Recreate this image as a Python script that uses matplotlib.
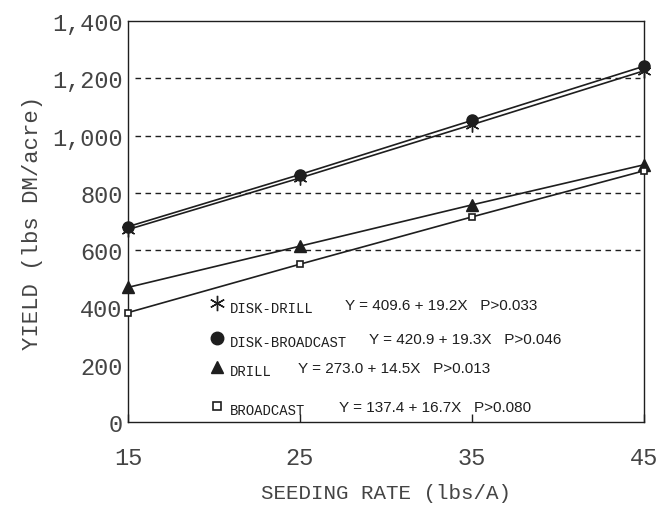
import numpy as np
import matplotlib
matplotlib.use('Agg')
import matplotlib.pyplot as plt
from matplotlib.ticker import FuncFormatter

# seeding rates and yields
rate = [15, 25, 35, 45]
disk_drill = [672, 852, 1038, 1226]
disk_broadcast = [682, 864, 1053, 1242]
drill = [470, 614, 758, 898]
broadcast = [382, 551, 716, 877]

names = ['DISK-DRILL', 'DISK-BROADCAST', 'DRILL', 'BROADCAST']
equations = ['Y = 409.6 + 19.2X   P>0.033',
             'Y = 420.9 + 19.3X   P>0.046',
             'Y = 273.0 + 14.5X   P>0.013',
             'Y = 137.4 + 16.7X   P>0.080']

ink = '#1e1e1e'
mono = 'Liberation Mono'

fig = plt.figure(figsize=(6.58, 5.06), dpi=100)
ax = fig.add_axes([0.1945, 0.164, 0.784, 0.7925])

for y in [600, 800, 1000, 1200]:
    ax.plot([15.4, 44.8], [y, y], ls=(0, (4, 3.2)), color=ink, lw=1.0)

mk = dict(color=ink, lw=1.2, clip_on=False, zorder=3)
ax.plot(rate, disk_drill, marker=(6, 2, 0), ms=10, mew=1.0, **mk)
ax.plot(rate, disk_broadcast, marker='o', ms=8, mfc=ink, **mk)
ax.plot(rate, drill, marker='^', ms=8, mfc=ink, **mk)
ax.plot(rate, broadcast, marker='s', ms=5, mfc='white', mew=1.2, **mk)

# hand-drawn style key inside the plot
key_y = [414, 295, 193, 56]
key_marks = [dict(marker=(6, 2, 0), ms=11, mew=1.0),
             dict(marker='o', ms=9, mfc=ink),
             dict(marker='^', ms=9, mfc=ink),
             dict(marker='s', ms=6, mfc='white', mew=1.2)]
eq_x = [27.6, 29.0, 24.9, 27.3]
for i in range(4):
    ax.plot([20.2], [key_y[i]], color=ink, ls='none', **key_marks[i])
    ax.text(20.9, key_y[i] - 15, names[i], fontsize=10, family=mono,
            color=ink, va='center', ha='left')
    ax.text(eq_x[i], key_y[i] - 5, equations[i], fontsize=11,
            family='Liberation Sans', color=ink, va='center', ha='left')

ax.set_xlim(15, 45)
ax.set_ylim(0, 1400)
ax.set_xticks([15, 25, 35, 45])
ax.set_yticks(np.arange(0, 1401, 200))
ax.yaxis.set_major_formatter(FuncFormatter(lambda v, p: f'{int(v):,}'))
ax.tick_params(axis='x', direction='in', length=6, width=1, pad=17, colors=ink)
ax.tick_params(axis='y', length=0, pad=4, colors=ink)
for lab in ax.get_xticklabels() + ax.get_yticklabels():
    lab.set_family(mono)
    lab.set_fontsize(17)
    lab.set_color('#444444')
for s in ax.spines.values():
    s.set_color(ink)
    s.set_linewidth(1.0)

ax.set_xlabel('SEEDING RATE (lbs/A)', family=mono, fontsize=15, color='#444444', labelpad=10)
ax.set_ylabel('YIELD (lbs DM/acre)', family=mono, fontsize=16, color='#444444', labelpad=6)

fig.savefig('out.png', dpi=100)
